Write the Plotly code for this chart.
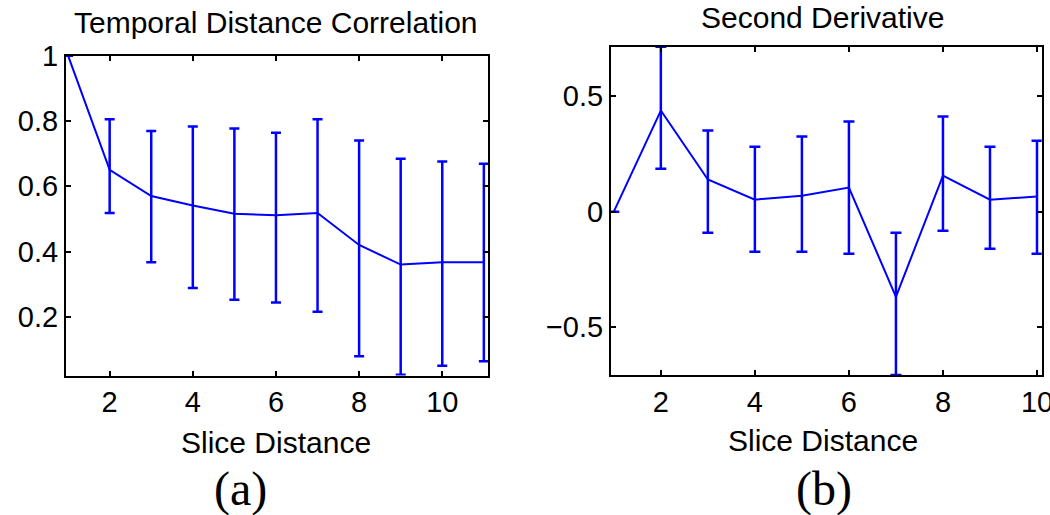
import plotly.graph_objects as go

# Panel (a): Temporal Distance Correlation
slice_a = [1, 2, 3, 4, 5, 6, 7, 8, 9, 10, 11]
corr_mean = [1.0, 0.650, 0.570, 0.541, 0.516, 0.511, 0.518, 0.420, 0.360, 0.367, 0.367]
corr_upper = [None, 0.805, 0.769, 0.783, 0.777, 0.764, 0.805, 0.740, 0.684, 0.676, 0.669]
corr_lower = [None, 0.518, 0.367, 0.288, 0.252, 0.244, 0.215, 0.079, 0.022, 0.050, 0.064]

# Panel (b): Second Derivative
slice_b = [1, 2, 3, 4, 5, 6, 7, 8, 9, 10]
deriv_mean = [0.0, 0.437, 0.139, 0.052, 0.069, 0.104, -0.368, 0.156, 0.052, 0.065]
deriv_upper = [None, 0.713, 0.351, 0.281, 0.325, 0.390, -0.091, 0.411, 0.281, 0.307]
deriv_lower = [None, 0.186, -0.091, -0.173, -0.173, -0.182, -0.706, -0.082, -0.160, -0.182]

titles = ["Temporal Distance Correlation", "Second Derivative"]
xlabel = "Slice Distance"
panel_tags = ["(a)", "(b)"]

BLUE = "#0000ff"


def err(mean, upper, lower):
    plus = [0 if u is None else u - m for m, u in zip(mean, upper)]
    minus = [0 if l is None else m - l for m, l in zip(mean, lower)]
    return plus, minus


pa, ma = err(corr_mean, corr_upper, corr_lower)
pb, mb = err(deriv_mean, deriv_upper, deriv_lower)

fig = go.Figure()
fig.add_trace(go.Scatter(
    x=slice_a, y=corr_mean, mode="lines",
    line=dict(color=BLUE, width=2),
    error_y=dict(type="data", symmetric=False, array=pa, arrayminus=ma,
                 color=BLUE, thickness=2.5, width=5),
    xaxis="x", yaxis="y", showlegend=False))
fig.add_trace(go.Scatter(
    x=slice_b, y=deriv_mean, mode="lines",
    line=dict(color=BLUE, width=2),
    error_y=dict(type="data", symmetric=False, array=pb, arrayminus=mb,
                 color=BLUE, thickness=2.5, width=5.5),
    xaxis="x2", yaxis="y2", showlegend=False))

W, H = 1050, 515
tickfont = dict(family="Liberation Sans, Arial, sans-serif", size=29, color="black")
axis_common = dict(showline=True, linecolor="black", linewidth=2, mirror="ticks",
                   ticks="inside", ticklen=5, tickwidth=1.5, tickcolor="black",
                   showgrid=False, zeroline=False, tickfont=tickfont,
                   automargin=False, ticklabeloverflow="allow")

fig.update_layout(
    template="none",
    width=W, height=H,
    margin=dict(l=0, r=0, t=0, b=0, pad=0),
    paper_bgcolor="white", plot_bgcolor="white",
    xaxis=dict(domain=[66 / W, 488 / W], range=[0.95, 11.1],
               tickvals=[2, 4, 6, 8, 10], anchor="y", **axis_common),
    yaxis=dict(domain=[1 - 375.5 / H, 1 - 55.7 / H], range=[0.02, 1.0],
               tickvals=[0.2, 0.4, 0.6, 0.8, 1], anchor="x", **axis_common),
    xaxis2=dict(domain=[611 / W, 1041.7 / W], range=[0.94, 10.1],
                tickvals=[2, 4, 6, 8, 10], anchor="y2", **axis_common),
    yaxis2=dict(domain=[1 - 375 / H, 1 - 46.7 / H], range=[-0.706, 0.713],
                tickvals=[-0.5, 0, 0.5], anchor="x2", **axis_common),
)

lab_font = dict(family="Liberation Sans, Arial, sans-serif", size=30, color="black")
tag_font = dict(family="Liberation Serif, Times New Roman, serif", size=48, color="black")

ann = [
    dict(text=titles[0], x=276 / W, y=1 - 22 / H, font=lab_font),
    dict(text=titles[1], x=822.5 / W, y=1 - 17 / H, font=lab_font),
    dict(text=xlabel, x=275.5 / W, y=1 - 442 / H, font=lab_font),
    dict(text=xlabel, x=822.5 / W, y=1 - 440 / H, font=lab_font),
    dict(text=panel_tags[0], x=240 / W, y=1 - 489 / H, font=tag_font),
    dict(text=panel_tags[1], x=824 / W, y=1 - 489 / H, font=tag_font),
]
for a in ann:
    fig.add_annotation(xref="paper", yref="paper", showarrow=False,
                       xanchor="center", yanchor="middle", **a)

fig.write_html(
    "out.html",
    config={"displayModeBar": False},
    post_script="document.body.style.margin='0';document.body.style.overflow='hidden';",
)
